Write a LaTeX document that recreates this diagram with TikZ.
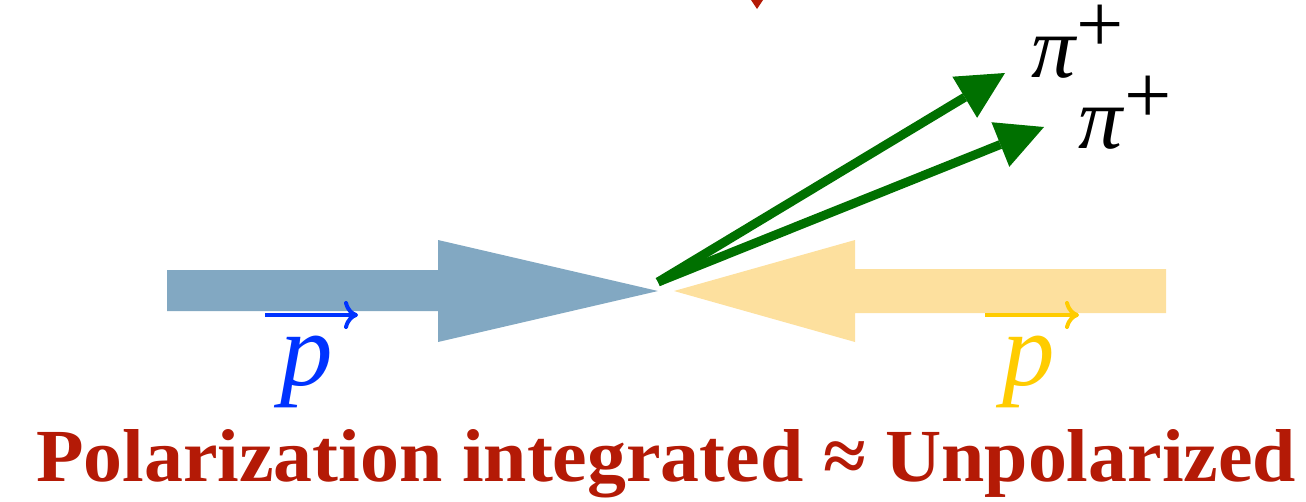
\documentclass[tikz,border=0pt]{standalone}
\usepackage{graphicx}
\usepackage{fontspec}
\setmainfont{Liberation Serif}
\usetikzlibrary{arrows.meta}
\definecolor{beamblue}{RGB}{130,168,194}
\definecolor{beamyellow}{RGB}{253,224,158}
\definecolor{piongreen}{RGB}{0,112,0}
\definecolor{labelblue}{RGB}{0,51,255}
\definecolor{labelyellow}{RGB}{255,204,0}
\definecolor{titlered}{RGB}{180,26,6}
\begin{document}
\begin{tikzpicture}[x=1pt,y=-1pt,
  pion/.style={draw=piongreen, line width=9pt,
    -{Triangle[length=47pt,width=48pt,line width=0pt,fill=piongreen]}},
  pilabel/.style={inner sep=0pt, anchor=base west, font=\fontsize{88}{88}\selectfont\itshape},
  pluslabel/.style={inner sep=0pt, font=\fontsize{84}{84}\selectfont},
  plabel/.style={inner sep=0pt, anchor=base west, font=\fontsize{105}{105}\selectfont\itshape},
  vecarrow/.style={line width=4pt, -{To[length=14pt,width=28pt]}}]
\useasboundingbox (0,0) rectangle (1306,501);

% incoming beams
\fill[beamblue] (167,270) -- (438,270) -- (438,240) -- (658,291)
  -- (438,342) -- (438,311) -- (167,311) -- cycle;
\fill[beamyellow] (1166,269) -- (855,269) -- (855,240) -- (674,291)
  -- (855,342) -- (855,313) -- (1166,313) -- cycle;

% tip of the arrow pointing down at the collision
\fill[titlered] (751,0) -- (763,0) -- (757,9) -- cycle;

% outgoing pions
\coordinate (vertex) at (658,282);
\coordinate (pitipA) at (1005,73);
\coordinate (pitipB) at (1044,127);
\draw[pion] (vertex) -- (pitipA);
\draw[pion] (vertex) -- (pitipB);

\node[pilabel] (piA) at (1031,77) {π};
\node[pluslabel] (plusA) at (1100.5,29) {+};
\node[pilabel] (piB) at (1078,148) {π};
\node[pluslabel] (plusB) at (1148.5,100) {+};

% proton labels
\node[plabel, text=labelblue] (pblue) at (280,385) {p};
\coordinate (vecblueL) at (265,315);
\coordinate (vecblueR) at (358,315);
\draw[vecarrow, labelblue] (vecblueL) -- (vecblueR);

\node[plabel, text=labelyellow] (pyellow) at (1002,385) {p};
\coordinate (vecyellowL) at (985,315);
\coordinate (vecyellowR) at (1079,315);
\draw[vecarrow, labelyellow] (vecyellowL) -- (vecyellowR);

% caption
\node[anchor=base west, inner sep=0pt, text=titlered] (caption) at (36,481)
  {\resizebox{1259pt}{52pt}{\bfseries Polarization integrated ≈ Unpolarized}};
\end{tikzpicture}
\end{document}
